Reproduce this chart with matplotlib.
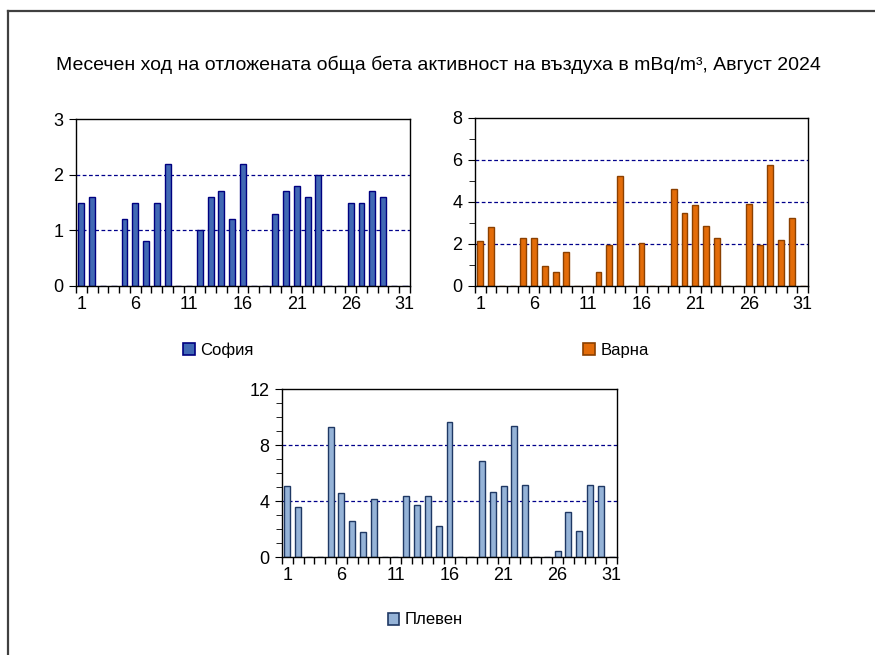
import numpy as np
import matplotlib as mp
import matplotlib.pyplot as plt
from matplotlib.lines import Line2D
from matplotlib.patches import Patch

mp.rcParams['font.family'] = ['Liberation Sans', 'DejaVu Sans']

days = np.arange(1, 32)

# стойности по дни (nan = няма данни)
nan = np.nan
sofia = [1.5, 1.6, nan, nan, 1.2, 1.5, 0.8, 1.5, 2.2, nan, nan, 1.0, 1.6, 1.7, 1.2, 2.2,
         nan, nan, 1.3, 1.7, 1.8, 1.6, 2.0, nan, nan, 1.5, 1.5, 1.7, 1.6, nan, nan]
varna = [2.15, 2.81, nan, nan, 2.29, 2.29, 0.96, 0.65, 1.63, nan, nan, 0.65, 1.96, 5.22, nan, 2.04,
         nan, nan, 4.62, 3.46, 3.84, 2.88, 2.29, nan, nan, 3.91, 1.94, 5.77, 2.21, 3.24, nan]
pleven = [5.04, 3.59, nan, nan, 9.26, 4.58, 2.59, 1.78, 4.13, nan, nan, 4.39, 3.68, 4.39, 2.23, 9.64,
          nan, nan, 6.86, 4.66, 5.04, 9.36, 5.11, nan, nan, 0.40, 3.23, 1.88, 5.11, 5.04, nan]

title = 'Месечен ход на отложената обща бета активност на въздуха в mBq/m³, Август 2024'

fig = plt.figure(figsize=(8.75, 6.55), dpi=100)

# рамка (горе и вляво)
fig.add_artist(Line2D([7.5/875, 7.5/875], [0, 1-11/655], transform=fig.transFigure,
                      color='#404040', lw=1.6))
fig.add_artist(Line2D([7.5/875, 1], [1-11/655, 1-11/655], transform=fig.transFigure,
                      color='#404040', lw=1.6))

fig.text(438/875, 1-65/655, title, ha='center', va='center', fontsize=14)


def barPlot(rect, vals, ymax, major, grid, minor, fc, ec, name, legpos):
    ax = fig.add_axes(rect)
    v = np.array(vals, dtype=float)
    ax.bar(days, np.nan_to_num(v), width=0.55, color=fc, edgecolor=ec, linewidth=1)
    ax.set_xlim(0.5, 31.5)
    ax.set_ylim(0, ymax)
    ax.set_xticks(np.arange(1, 32, 5))
    ax.set_xticks(np.arange(0.5, 32, 1), minor=True)
    ax.tick_params(axis='x', which='major', length=0, pad=7, labelsize=13)
    ax.tick_params(axis='x', which='minor', length=5, direction='out', width=1)
    ax.set_yticks(major)
    if minor is not None:
        ax.set_yticks(minor, minor=True)
        ax.tick_params(axis='y', which='minor', length=4, direction='out')
    ax.tick_params(axis='y', which='major', length=5, direction='out', labelsize=13, pad=4)
    for g in grid:
        ax.axhline(g, color='#00008B', lw=0.9, ls=(0, (3, 2)), zorder=0.5)
    for s in ax.spines.values():
        s.set_color('black')
        s.set_linewidth(1)
    h = Patch(facecolor=fc, edgecolor=ec, linewidth=1.2)
    fig.legend([h], [name], loc='center', bbox_to_anchor=legpos, frameon=False,
               fontsize=12, handlelength=0.7, handleheight=0.7, handletextpad=0.3)
    return ax


barPlot([76/875, 369/655, 334/875, 167/655], sofia, 3, [0, 1, 2, 3], [1, 2], None,
        '#4169B4', '#000080', 'София', (218/875, 1-350/655))
barPlot([475/875, 369/655, 333/875, 168/655], varna, 8, [0, 2, 4, 6, 8], [2, 4, 6],
        [1, 3, 5, 7], '#E36C09', '#8B4000', 'Варна', (616/875, 1-350/655))
barPlot([282/875, 98/655, 335/875, 168/655], pleven, 12, [0, 4, 8, 12], [4, 8],
        np.arange(0, 13, 1), '#95B3D7', '#1F3864', 'Плевен', (425/875, 1-620/655))

fig.savefig('out.png', dpi=100)
